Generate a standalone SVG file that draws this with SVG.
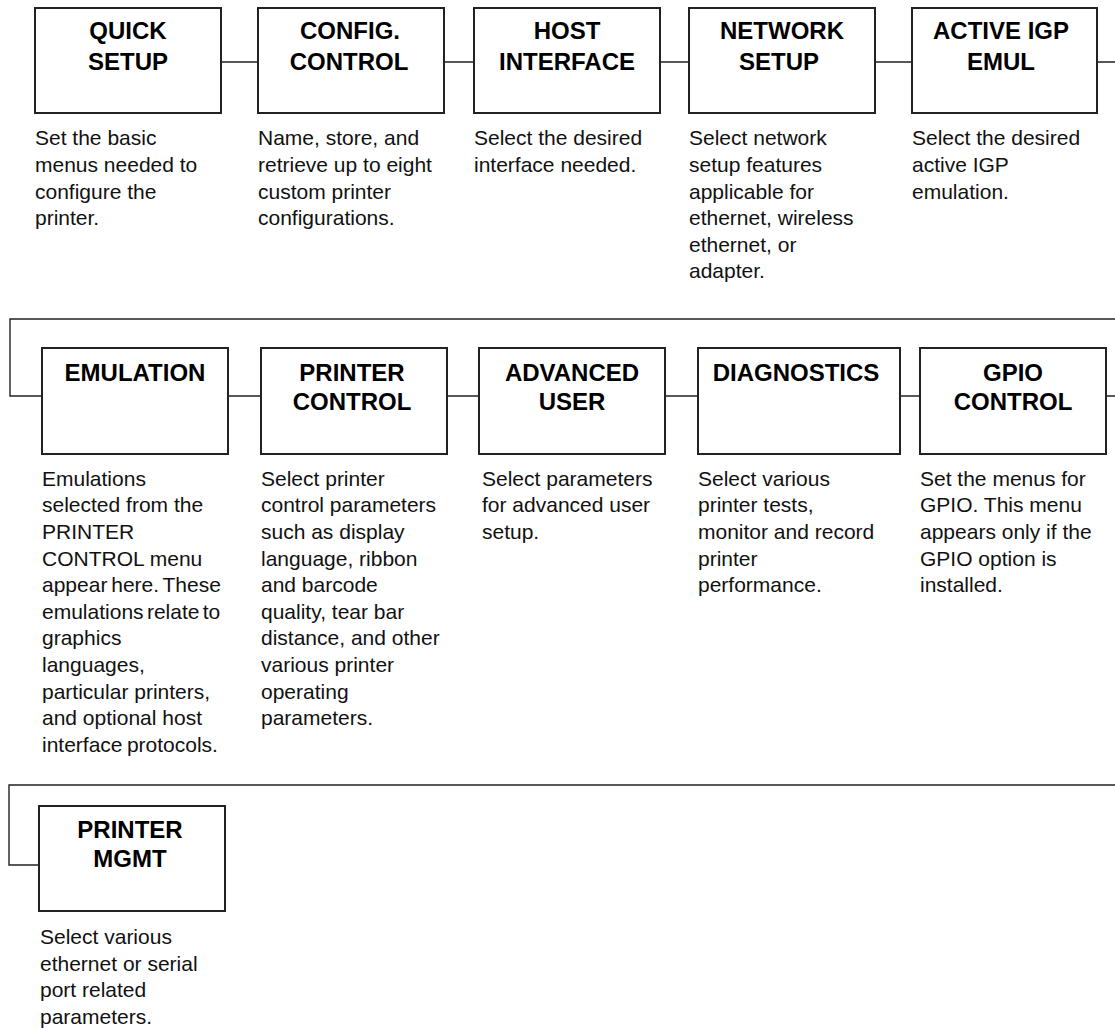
<svg xmlns="http://www.w3.org/2000/svg" width="1115" height="1030" viewBox="0 0 1115 1030">
<style>
.box{fill:#fff;stroke:#222;stroke-width:2}
.ln{fill:none;stroke:#222;stroke-width:1.4}
.t{font-family:"Liberation Sans",Arial,sans-serif;font-weight:bold;font-size:24px;fill:#000;text-anchor:middle}
.d{font-family:"Liberation Sans",Arial,sans-serif;font-size:21px;fill:#111}
</style>
<rect width="1115" height="1030" fill="#fff"/>
<g id="connectors">
<path class="ln" d="M221 62H258M444 62H474M660 62H689M875 62H912M1097 62H1115"/>
<path class="ln" d="M1115 319H10V396H42M228 396H261M447 396H479M665 396H698M900 396H920M1106 396H1115"/>
<path class="ln" d="M1115 785H9V865H39"/>
</g>
<g id="quick-setup">
<rect class="box" x="35" y="8" width="186" height="105"/>
<text class="t" x="128" y="39">QUICK</text><text class="t" x="128" y="70">SETUP</text>
<text class="d" x="35" y="145.3"><tspan x="35">Set the basic</tspan><tspan x="35" dy="26.6">menus needed to</tspan><tspan x="35" dy="26.6">configure the</tspan><tspan x="35" dy="26.6">printer.</tspan></text>
</g>
<g id="config-control">
<rect class="box" x="258" y="8" width="186" height="105"/>
<text class="t" x="350" y="39">CONFIG.</text><text class="t" x="349" y="70">CONTROL</text>
<text class="d" x="258" y="145.3"><tspan x="258">Name, store, and</tspan><tspan x="258" dy="26.6">retrieve up to eight</tspan><tspan x="258" dy="26.6">custom printer</tspan><tspan x="258" dy="26.6">configurations.</tspan></text>
</g>
<g id="host-interface">
<rect class="box" x="474" y="8" width="186" height="105"/>
<text class="t" x="567" y="39">HOST</text><text class="t" x="567" y="70">INTERFACE</text>
<text class="d" x="474" y="145.3"><tspan x="474">Select the desired</tspan><tspan x="474" dy="26.6">interface needed.</tspan></text>
</g>
<g id="network-setup">
<rect class="box" x="689" y="8" width="186" height="105"/>
<text class="t" x="782" y="39">NETWORK</text><text class="t" x="779" y="70">SETUP</text>
<text class="d" x="689" y="145.3"><tspan x="689">Select network</tspan><tspan x="689" dy="26.6">setup features</tspan><tspan x="689" dy="26.6">applicable for</tspan><tspan x="689" dy="26.6">ethernet, wireless</tspan><tspan x="689" dy="26.6">ethernet, or</tspan><tspan x="689" dy="26.6">adapter.</tspan></text>
</g>
<g id="active-igp-emul">
<rect class="box" x="912" y="8" width="185" height="105"/>
<text class="t" x="1001" y="39">ACTIVE IGP</text><text class="t" x="1001" y="70">EMUL</text>
<text class="d" x="912" y="145.3"><tspan x="912">Select the desired</tspan><tspan x="912" dy="26.6">active IGP</tspan><tspan x="912" dy="26.6">emulation.</tspan></text>
</g>
<g id="emulation">
<rect class="box" x="42" y="348" width="186" height="106"/>
<text class="t" x="135" y="381">EMULATION</text>
<text class="d" x="42" y="485.7"><tspan x="42">Emulations</tspan><tspan x="42" dy="26.6">selected from the</tspan><tspan x="42" dy="26.6">PRINTER</tspan><tspan x="42" dy="26.6">CONTROL menu</tspan><tspan x="42" dy="26.6" word-spacing="-2">appear here. These</tspan><tspan x="42" dy="26.6" word-spacing="-2.5">emulations relate to</tspan><tspan x="42" dy="26.6">graphics</tspan><tspan x="42" dy="26.6">languages,</tspan><tspan x="42" dy="26.6">particular printers,</tspan><tspan x="42" dy="26.6">and optional host</tspan><tspan x="42" dy="26.6" word-spacing="-1.5">interface protocols.</tspan></text>
</g>
<g id="printer-control">
<rect class="box" x="261" y="348" width="186" height="106"/>
<text class="t" x="352" y="381">PRINTER</text><text class="t" x="352" y="410">CONTROL</text>
<text class="d" x="261" y="485.7"><tspan x="261">Select printer</tspan><tspan x="261" dy="26.6">control parameters</tspan><tspan x="261" dy="26.6">such as display</tspan><tspan x="261" dy="26.6">language, ribbon</tspan><tspan x="261" dy="26.6">and barcode</tspan><tspan x="261" dy="26.6">quality, tear bar</tspan><tspan x="261" dy="26.6">distance, and other</tspan><tspan x="261" dy="26.6">various printer</tspan><tspan x="261" dy="26.6">operating</tspan><tspan x="261" dy="26.6">parameters.</tspan></text>
</g>
<g id="advanced-user">
<rect class="box" x="479" y="348" width="186" height="106"/>
<text class="t" x="572" y="381">ADVANCED</text><text class="t" x="572" y="410">USER</text>
<text class="d" x="482" y="485.7"><tspan x="482">Select parameters</tspan><tspan x="482" dy="26.6">for advanced user</tspan><tspan x="482" dy="26.6">setup.</tspan></text>
</g>
<g id="diagnostics">
<rect class="box" x="698" y="348" width="202" height="106"/>
<text class="t" x="796" y="381">DIAGNOSTICS</text>
<text class="d" x="698" y="485.7"><tspan x="698">Select various</tspan><tspan x="698" dy="26.6">printer tests,</tspan><tspan x="698" dy="26.6">monitor and record</tspan><tspan x="698" dy="26.6">printer</tspan><tspan x="698" dy="26.6">performance.</tspan></text>
</g>
<g id="gpio-control">
<rect class="box" x="920" y="348" width="186" height="106"/>
<text class="t" x="1013" y="381">GPIO</text><text class="t" x="1013" y="410">CONTROL</text>
<text class="d" x="920" y="485.7"><tspan x="920">Set the menus for</tspan><tspan x="920" dy="26.6">GPIO. This menu</tspan><tspan x="920" dy="26.6">appears only if the</tspan><tspan x="920" dy="26.6">GPIO option is</tspan><tspan x="920" dy="26.6">installed.</tspan></text>
</g>
<g id="printer-mgmt">
<rect class="box" x="39" y="806" width="186" height="105"/>
<text class="t" x="130" y="838">PRINTER</text><text class="t" x="130" y="867">MGMT</text>
<text class="d" x="40" y="944"><tspan x="40">Select various</tspan><tspan x="40" dy="26.6">ethernet or serial</tspan><tspan x="40" dy="26.6">port related</tspan><tspan x="40" dy="26.6">parameters.</tspan></text>
</g>
</svg>
